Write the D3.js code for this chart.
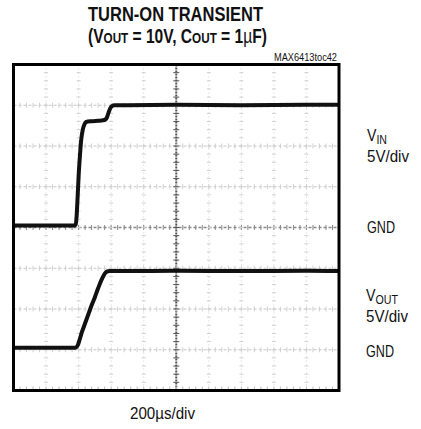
<!DOCTYPE html>
<html lang="en">
<head>
    <meta charset="UTF-8">
    <title>Turn-On Transient</title>
    <script src="https://d3js.org/d3.v7.js"></script>
    <style>
        body { margin: 0; background: white; }
        svg text { font-family: "Liberation Sans", Arial, sans-serif; fill: #111; }
    </style>
</head>
<body>

<svg id="scope" width="421" height="429"></svg>

<script>

var vin_time  = [0, 375, 382, 388, 394, 400, 408, 416, 426, 436, 446, 480, 520, 550, 565, 575, 585, 595, 605, 620, 700, 1000, 1400, 1800, 2000];
var vin_volts = [0, 0, 0.1, 1.2, 3.5, 6, 8.5, 10.5, 11.8, 12.4, 12.7, 12.8, 12.85, 12.9, 13.0, 13.3, 13.9, 14.4, 14.65, 14.75, 14.75, 14.8, 14.75, 14.8, 14.8];

var vout_time  = [0, 370, 385, 395, 405, 420, 440, 460, 480, 500, 520, 540, 555, 565, 575, 590, 610, 700, 1000, 1400, 1800, 2000];
var vout_volts = [0, 0, 0.05, 0.3, 0.9, 1.9, 3.0, 4.1, 5.2, 6.2, 7.3, 8.3, 8.9, 9.2, 9.35, 9.4, 9.4, 9.4, 9.45, 9.4, 9.45, 9.4];

var x_divs = d3.range(0, 11);          // 10 horizontal divisions
var y_divs = d3.range(-4, 5);          // 8 vertical divisions
var volts_per_div = 5;

// channel ground levels, in divisions from the centre line
var vin_ground = 0.05;
var vout_ground = -2.95;

var svg = d3.select("#scope");

// screen area
var scr_left = 13.5, scr_right = 339, scr_top = 64.5, scr_bottom = 390.5;

var x = d3.scaleLinear().domain([0, 2000]).range([scr_left, scr_right]);
var y = d3.scaleLinear().domain([-4, 4]).range([scr_bottom, scr_top]);
var xd = d3.scaleLinear().domain([0, 10]).range([scr_left, scr_right]);

var minor_x = d3.range(1, 50, 1).map(function (d) { return d / 5; });
var minor_y = d3.range(-19, 20, 1).map(function (d) { return d / 5; });

var grid = svg.append("g");

// horizontal graticule lines
grid.selectAll("line.h")
  .data(y_divs.slice(1, -1))
  .enter()
  .append("line")
    .attr("x1", scr_left).attr("x2", scr_right)
    .attr("y1", function (d) { return y(d); })
    .attr("y2", function (d) { return y(d); })
    .attr("stroke", function (d) { return d == 0 ? "#888" : "#c4c4c4"; })
    .attr("stroke-width", function (d) { return d == 0 ? 1.5 : 1; })
    .attr("stroke-dasharray", "3,2");

// vertical graticule lines
grid.selectAll("line.v")
  .data(x_divs.slice(1, -1))
  .enter()
  .append("line")
    .attr("y1", scr_top).attr("y2", scr_bottom)
    .attr("x1", function (d) { return xd(d); })
    .attr("x2", function (d) { return xd(d); })
    .attr("stroke", function (d) { return d == 5 ? "#555" : "#d0d0d0"; })
    .attr("stroke-width", function (d) { return d == 5 ? 2 : 1; })
    .attr("stroke-dasharray", function (d) { return d == 5 ? "2,1" : "1,3"; });

// minor ticks on each horizontal line
y_divs.slice(1, -1).forEach(function (row) {
  grid.selectAll(null)
    .data(minor_x)
    .enter()
    .append("line")
      .attr("x1", function (d) { return xd(d); })
      .attr("x2", function (d) { return xd(d); })
      .attr("y1", y(row) - 2.5)
      .attr("y2", y(row) + 2.5)
      .attr("stroke", row == 0 ? "#888" : "#d0d0d0")
      .attr("stroke-width", 1);
});

// minor ticks on each vertical line
x_divs.slice(1, -1).forEach(function (col) {
  grid.selectAll(null)
    .data(minor_y)
    .enter()
    .append("line")
      .attr("y1", function (d) { return y(d); })
      .attr("y2", function (d) { return y(d); })
      .attr("x1", xd(col) - (col == 5 ? 3 : 2))
      .attr("x2", xd(col) + (col == 5 ? 3 : 2))
      .attr("stroke", col == 5 ? "#555" : "#d0d0d0")
      .attr("stroke-width", 1);
});

// minor ticks along the bottom edge
grid.selectAll("line.b")
  .data(minor_x)
  .enter()
  .append("line")
    .attr("x1", function (d) { return xd(d); })
    .attr("x2", function (d) { return xd(d); })
    .attr("y1", scr_bottom - 4)
    .attr("y2", scr_bottom)
    .attr("stroke", "#bbb");

// traces
var line = d3.line().curve(d3.curveMonotoneX);

function trace(times, volts, ground) {
  var pts = times.map(function (t, i) {
    return [x(t), y(ground + volts[i] / volts_per_div)];
  });
  svg.append("path")
    .attr("d", line(pts))
    .attr("fill", "none")
    .attr("stroke", "#111")
    .attr("stroke-width", 4)
    .attr("stroke-linejoin", "round");
}

trace(vin_time, vin_volts, vin_ground);
trace(vout_time, vout_volts, vout_ground);

// frame
svg.append("rect")
  .attr("x", scr_left).attr("y", scr_top)
  .attr("width", scr_right - scr_left).attr("height", scr_bottom - scr_top)
  .attr("fill", "none")
  .attr("stroke", "#000")
  .attr("stroke-width", 3);

// squeeze a text horizontally to a given width (narrow face look)
function squeeze(g, w) {
  var t = g.select("text");
  var natural = t.node().getComputedTextLength();
  t.attr("transform", "scale(" + (w / natural) + ",1)");
}

// titles
svg.append("text")
  .attr("x", 88).attr("y", 21)
  .attr("font-size", 20).attr("font-weight", "bold")
  .attr("textLength", 175).attr("lengthAdjust", "spacingAndGlyphs")
  .text("TURN-ON TRANSIENT");

var g2 = svg.append("g").attr("transform", "translate(88,43)");
var t2 = g2.append("text")
  .attr("font-size", 20).attr("font-weight", "bold");
t2.append("tspan").text("(V");
t2.append("tspan").attr("font-size", 15).text("OUT");
t2.append("tspan").text(" = 10V, C");
t2.append("tspan").attr("font-size", 15).text("OUT");
t2.append("tspan").text(" = 1");
t2.append("tspan").attr("font-weight", "normal").text("\u00b5");
t2.append("tspan").text("F)");
squeeze(g2, 179);

svg.append("text")
  .attr("x", 274).attr("y", 61)
  .attr("font-size", 10)
  .attr("textLength", 63).attr("lengthAdjust", "spacingAndGlyphs")
  .text("MAX6413toc42");

// channel labels on the right
function plain_label(xp, yp, txt, w) {
  svg.append("text").attr("x", xp).attr("y", yp).attr("font-size", 16)
    .attr("textLength", w).attr("lengthAdjust", "spacingAndGlyphs")
    .text(txt);
}

function sub_label(xp, yp, main, sub, w) {
  var g = svg.append("g").attr("transform", "translate(" + xp + "," + yp + ")");
  var t = g.append("text").attr("font-size", 16);
  t.append("tspan").text(main);
  t.append("tspan").attr("font-size", 12).attr("dy", 3).text(sub);
  squeeze(g, w);
}

sub_label(367, 141, "V", "IN", 20);
plain_label(367, 162, "5V/div", 42);
plain_label(367, 233, "GND", 28);

sub_label(366, 301, "V", "OUT", 32);
plain_label(366, 322, "5V/div", 42);
plain_label(366, 357, "GND", 28);

svg.append("text")
  .attr("x", 130).attr("y", 419)
  .attr("font-size", 16)
  .attr("textLength", 65).attr("lengthAdjust", "spacingAndGlyphs")
  .text("200\u00b5s/div");

</script>
</body>
</html>
